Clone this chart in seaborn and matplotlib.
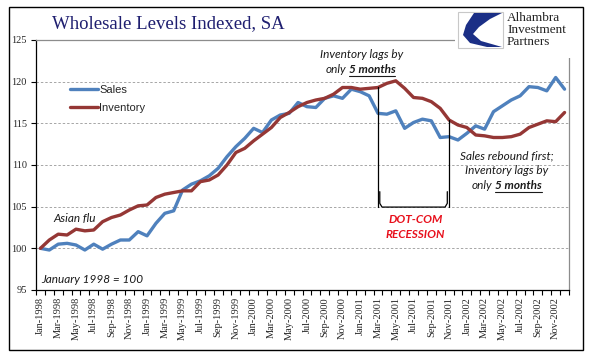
import numpy as np
import pandas as pd
import seaborn as sns
import matplotlib.pyplot as plt
from matplotlib.patches import Rectangle, Polygon
from matplotlib.lines import Line2D
from matplotlib.ticker import FixedLocator

# monthly index, January 1998 = 100
months = pd.date_range('1998-01-01', '2002-12-01', freq='MS')
month_labels = [d.strftime('%b-%Y') for d in months]
sales = [100.0, 99.8, 100.5, 100.6, 100.4, 99.8, 100.5, 99.9, 100.5, 101.0,
         101.0, 102.0, 101.5, 103.0, 104.2, 104.5, 107.0, 107.7, 108.1, 108.7,
         109.6, 111.0, 112.2, 113.2, 114.4, 113.9, 115.4, 116.0, 116.2, 117.5,
         117.0, 116.9, 118.0, 118.3, 118.0, 119.1, 118.8, 118.3, 116.2, 116.1,
         116.5, 114.4, 115.1, 115.5, 115.3, 113.3, 113.4, 113.0, 113.8, 114.7,
         114.3, 116.4, 117.1, 117.8, 118.3, 119.4, 119.3, 118.9, 120.5, 119.1]
inventory = [100.0, 101.0, 101.7, 101.6, 102.3, 102.1, 102.2, 103.2, 103.7, 104.0,
             104.6, 105.1, 105.2, 106.1, 106.5, 106.7, 106.9, 106.9, 108.0, 108.2,
             108.8, 110.0, 111.5, 112.0, 112.9, 113.7, 114.5, 115.7, 116.3, 117.0,
             117.5, 117.8, 118.0, 118.5, 119.3, 119.3, 119.1, 119.2, 119.3, 119.8,
             120.1, 119.2, 118.1, 118.0, 117.6, 116.8, 115.4, 114.8, 114.5, 113.6,
             113.5, 113.3, 113.3, 113.4, 113.7, 114.5, 114.9, 115.3, 115.2, 116.3]
y_ticks = [95, 100, 105, 110, 115, 120, 125]
rec_start, rec_end = 38, 46   # Mar-2001 .. Nov-2001

SERIF = 'Liberation Serif'
SANS = 'Liberation Sans'
NOTE = 'Lato'
colors = {'Sales': '#4F81BD', 'Inventory': '#953735'}

df = pd.DataFrame({'idx': np.arange(len(months)), 'Sales': sales, 'Inventory': inventory})
long = df.melt('idx', var_name='series', value_name='value')

sns.set_style('white')
W, H = 596, 358
fig = plt.figure(figsize=(W / 100, H / 100), dpi=100)
ax = fig.add_axes([36 / W, 1 - 290 / H, (569 - 36) / W, 250 / H])

sns.lineplot(data=long, x='idx', y='value', hue='series', palette=colors,
             linewidth=2.4, ax=ax, legend=False)

ax.set_xlim(-0.5, len(months) - 0.5)
ax.set_ylim(95, 125)
ax.set_xlabel('')
ax.set_ylabel('')

# y axis
ax.set_yticks(y_ticks)
ax.set_yticklabels([str(v) for v in y_ticks], family=SERIF, fontsize=7.5)
for v in y_ticks[1:-1]:
    ax.axhline(v, color='#a6a6a6', lw=0.7, ls=(0, (2.5, 2)), zorder=0)
ax.tick_params(axis='y', length=3.5, width=0.8, color='black', pad=3, direction='out', left=True)

# x axis: labels every 2 months, ticks at month boundaries
ax.set_xticks(np.arange(0, len(months), 2))
ax.set_xticklabels(month_labels[::2], rotation=90, family=SERIF, fontsize=7.5)
ax.xaxis.set_minor_locator(FixedLocator(np.arange(-0.5, len(months), 1)))
ax.tick_params(axis='x', which='major', length=0, pad=5)
ax.tick_params(axis='x', which='minor', length=3.5, width=0.8, color='black', direction='out', bottom=True)

for side in ['left', 'bottom']:
    ax.spines[side].set_color('black')
    ax.spines[side].set_linewidth(0.9)
for side in ['top', 'right']:
    ax.spines[side].set_color('#8c8c8c')
    ax.spines[side].set_linewidth(0.9)

# legend
handles = [Line2D([], [], color=colors[k], lw=2.4) for k in ['Sales', 'Inventory']]
ax.legend(handles, ['Sales', 'Inventory'], loc='upper left',
          bbox_to_anchor=(70 / W, 1 - 85 / H), bbox_transform=fig.transFigure,
          frameon=False, borderpad=0, borderaxespad=0, handlelength=2.5,
          handletextpad=0.15, labelspacing=0.75, prop={'family': SANS, 'size': 8})

# recession bracket
br_y = 104.95
ax.plot([rec_start, rec_start], [inventory[rec_start], br_y], color='black', lw=0.9)
ax.plot([rec_end, rec_end], [inventory[rec_end], br_y], color='black', lw=0.9)
ax.plot([rec_start + 0.2, rec_start + 0.2, rec_start + 0.45, rec_end - 0.45, rec_end - 0.2, rec_end - 0.2],
        [106.8, 105.4, br_y, br_y, 105.4, 106.8], color='black', lw=0.9)

note_kw = dict(family=NOTE, fontstyle='italic', fontsize=8.5, color='#1a1a1a', ha='center', va='center')
ax.text(42.2, 103.4, 'DOT-COM', **{**note_kw, 'color': '#e8101c', 'fontweight': 'bold'})
ax.text(42.2, 101.6, 'RECESSION', **{**note_kw, 'color': '#e8101c', 'fontweight': 'bold'})
ax.text(3.9, 103.6, 'Asian flu', **note_kw)
ax.text(5.8, 96.2, 'January 1998 = 100', **note_kw)
ax.text(36.1, 123.2, 'Inventory lags by', **note_kw)
ax.text(52.5, 111.1, 'Sales rebound first;', **note_kw)
ax.text(52.5, 109.3, 'Inventory lags by', **note_kw)

renderer = fig.canvas.get_renderer()


def only_months(x, y):
    # "only " in italic, "5 months" in bold italic and underlined, centred at (x, y)
    kw = {k: v for k, v in note_kw.items() if k != 'ha'}
    t1 = ax.text(x, y, 'only', ha='left', **kw)
    t2 = ax.text(x, y, '5 months', ha='left', fontweight='bold', **kw)
    sp = ax.text(x, y, 'o o', **kw)
    sp2 = ax.text(x, y, 'oo', **kw)
    space = sp.get_window_extent(renderer).width - sp2.get_window_extent(renderer).width
    sp.remove()
    sp2.remove()
    w1 = t1.get_window_extent(renderer).width
    w2 = t2.get_window_extent(renderer).width
    px, py = ax.transData.transform((x, y))
    left = px - (w1 + space + w2) / 2
    inv = ax.transData.inverted()
    t1.set_position((inv.transform((left, py))[0], y))
    x2 = left + w1 + space
    t2.set_position((inv.transform((x2, py))[0], y))
    ux0 = inv.transform((x2, py - 6.5))
    ux1 = inv.transform((x2 + w2, py - 6.5))
    ax.plot([ux0[0], ux1[0]], [ux0[1], ux1[1]], color='#1a1a1a', lw=0.8)


only_months(36.0, 121.4)
only_months(52.5, 107.5)

# title
fig.text(52 / W, 1 - 28 / H, 'Wholesale Levels Indexed, SA', family=SERIF,
         fontsize=13.5, color='#1f1f70', va='baseline', ha='left')

# logo (white backing hides the corner of the frame, as in the original)
fig.patches.append(Rectangle((455 / W, 1 - 58 / H), 125 / W, 50 / H, transform=fig.transFigure,
                             facecolor='white', edgecolor='none', zorder=3))
fig.patches.append(Rectangle((458 / W, 1 - 48 / H), 45 / W, 36 / H, transform=fig.transFigure,
                             facecolor='white', edgecolor='#c8c8c8', lw=0.8, zorder=4))
swoosh = [(474, 13), (502, 13), (490, 19), (479, 27), (473, 34), (481, 41), (502, 47),
          (487, 47), (470, 43), (463, 35), (466, 25)]
fig.patches.append(Polygon([(px / W, 1 - py / H) for px, py in swoosh], closed=True,
                           transform=fig.transFigure, facecolor='#1b2f86', edgecolor='none', zorder=5))
for i, word in enumerate(['Alhambra', 'Investment', 'Partners']):
    fig.text(507 / W, 1 - (21 + 12 * i) / H, word, family=SERIF, fontsize=9.5,
             color='#222222', va='baseline', ha='left', zorder=6)

# outer frame
fig.patches.append(Rectangle((9 / W, 1 - 350 / H), 574 / W, 343 / H, transform=fig.transFigure,
                             facecolor='none', edgecolor='black', lw=1.0, zorder=7))

fig.savefig('out.png', dpi=100)
